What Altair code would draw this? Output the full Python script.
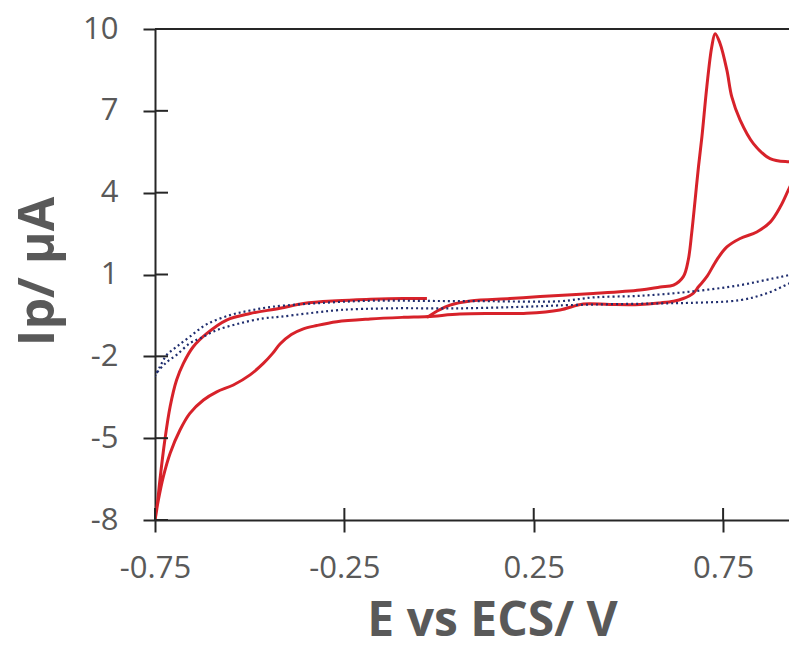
import altair as alt
import pandas as pd

# Axis ticks / domains
x_ticks = [-0.75, -0.25, 0.25, 0.75]
y_ticks = [-8, -5, -2, 1, 4, 7, 10]
x_domain = [-0.75, 0.924]
y_domain = [-8, 10]

# Red CV (sample): forward scan -> reverse scan -> return scan
red_E = [
    -0.032, -0.005, 0.029, 0.082, 0.187, 0.267, 0.407, 0.531, 0.584, 0.619,
    0.645, 0.658, 0.667, 0.676, 0.685, 0.694, 0.707, 0.720, 0.729, 0.742,
    0.760, 0.773, 0.795, 0.830, 0.874, 0.924, 0.950,
    0.950, 0.924, 0.901, 0.875, 0.839, 0.795, 0.760, 0.733, 0.707, 0.685,
    0.671, 0.645, 0.619, 0.584, 0.531, 0.450, 0.381, 0.319, 0.231, 0.150,
    0.055, -0.030, -0.094, -0.182, -0.270, -0.323, -0.360, -0.390, -0.420,
    -0.440, -0.464, -0.499, -0.543, -0.587, -0.622, -0.658, -0.684, -0.710,
    -0.728, -0.741, -0.750,
    -0.7455, -0.737, -0.724, -0.710, -0.693, -0.675, -0.649, -0.613, -0.561,
    -0.499, -0.420, -0.358, -0.270, -0.182, -0.094, -0.032,
]
red_I = [
    -0.58, -0.34, -0.12, 0.03, 0.12, 0.19, 0.30, 0.43, 0.54, 0.61,
    0.92, 1.53, 2.51, 3.72, 4.95, 6.04, 7.88, 9.34, 9.83, 9.47,
    8.49, 7.51, 6.66, 5.80, 5.25, 5.13, 5.12,
    4.90, 4.15, 3.48, 2.93, 2.56, 2.32, 2.01, 1.53, 0.92, 0.55,
    0.31, 0.12, 0.02, -0.04, -0.10, -0.10, -0.08, -0.30, -0.42, -0.43,
    -0.45, -0.54, -0.57, -0.63, -0.73, -0.87, -1.00, -1.20, -1.55,
    -1.90, -2.26, -2.68, -3.05, -3.30, -3.60, -4.09, -4.70, -5.55,
    -6.41, -7.26, -8.00,
    -7.63, -6.53, -5.07, -3.84, -2.87, -2.26, -1.65, -1.16, -0.67,
    -0.43, -0.24, -0.06, 0.04, 0.09, 0.12, 0.12,
]

# Blue dotted CV (blank)
blue_E = [
    0.950, 0.924, 0.865, 0.795, 0.663, 0.584, 0.346, 0.231, 0.055, -0.129,
    -0.261, -0.349, -0.420, -0.464, -0.526, -0.587, -0.631, -0.658, -0.693,
    -0.719, -0.746, -0.750,
    -0.737, -0.719, -0.693, -0.658, -0.613, -0.552, -0.499, -0.438, -0.306,
    -0.174, -0.024, 0.135, 0.319, 0.407, 0.531, 0.663, 0.795, 0.883, 0.924,
    0.950,
]
blue_I = [
    0.85, 0.67, 0.31, 0.06, -0.04, -0.06, -0.12, -0.18, -0.24, -0.24,
    -0.30, -0.43, -0.55, -0.61, -0.79, -1.04, -1.34, -1.52, -1.95,
    -2.21, -2.62, -2.72,
    -2.38, -1.95, -1.65, -1.28, -0.82, -0.49, -0.32, -0.18, -0.04,
    0.04, 0.03, 0.02, 0.02, 0.16, 0.22, 0.37, 0.61, 0.86, 0.98,
    1.10,
]

W, H = 634, 491
AXIS_C = "#262626"
TEXT_C = "#595959"

red = pd.DataFrame({"E": red_E, "I": red_I, "k": list(range(len(red_E)))})
blue = pd.DataFrame({"E": blue_E, "I": blue_I, "k": list(range(len(blue_E)))})

xs = alt.Scale(domain=x_domain, nice=False, zero=False)
ys = alt.Scale(domain=y_domain, nice=False, zero=False)

x_axis = alt.Axis(
    values=x_ticks, labelExpr="'' + datum.value", title="E vs ECS/ V",
    grid=False, domainColor=AXIS_C, domainWidth=2, tickColor=AXIS_C,
    tickWidth=2, tickSize=12, labelFont="Open Sans", labelFontSize=31,
    labelColor=TEXT_C, labelPadding=21, labelFlush=False, labelOverlap=False,
    titleFont="Open Sans", titleFontSize=48, titleFontWeight="bold",
    titleColor=TEXT_C, titleX=337, titleY=115, titleBaseline="alphabetic",
    titleAlign="center",
)
y_axis = alt.Axis(
    values=y_ticks, labelExpr="'' + datum.value", title="Ip/ µA",
    grid=False, domainColor=AXIS_C, domainWidth=2, tickColor=AXIS_C,
    tickWidth=2, tickSize=12, labelFont="Open Sans", labelFontSize=31,
    labelColor=TEXT_C, labelPadding=25, labelFlush=False, labelOverlap=False,
    titleFont="Open Sans", titleFontSize=50, titleFontWeight="bold",
    titleColor=TEXT_C, titleAngle=270, titleX=-102, titleY=242,
    titleBaseline="alphabetic", titleAlign="center",
)

red_line = alt.Chart(red).mark_line(
    color="#d7222a", strokeWidth=3, clip=True, interpolate="catmull-rom"
).encode(
    x=alt.X("E:Q", scale=xs, axis=x_axis),
    y=alt.Y("I:Q", scale=ys, axis=y_axis),
    order=alt.Order("k:Q"),
)

blue_line = alt.Chart(blue).mark_line(
    color="#1f2d6e", strokeWidth=2.2, strokeDash=[2, 3], clip=True,
    interpolate="catmull-rom"
).encode(
    x=alt.X("E:Q", scale=xs),
    y=alt.Y("I:Q", scale=ys),
    order=alt.Order("k:Q"),
)

top_rule = alt.Chart(pd.DataFrame({"v": [y_domain[1]]})).mark_rule(
    color=AXIS_C, strokeWidth=2
).encode(y=alt.Y("v:Q", scale=ys))

x_in = alt.Chart(pd.DataFrame({"v": x_ticks})).mark_rule(
    color=AXIS_C, strokeWidth=2
).encode(x=alt.X("v:Q", scale=xs), y=alt.value(H - 12), y2=alt.value(H))

y_in = alt.Chart(pd.DataFrame({"v": y_ticks})).mark_rule(
    color=AXIS_C, strokeWidth=2
).encode(y=alt.Y("v:Q", scale=ys), x=alt.value(0), x2=alt.value(13))

chart = alt.layer(red_line, blue_line, top_rule, x_in, y_in).properties(
    width=W, height=H,
    autosize=alt.AutoSizeParams(type="none"),
    padding={"left": 155, "top": 29, "right": 0, "bottom": 132},
    background="white",
).configure_view(strokeWidth=0)

chart.save("out.html", embed_options={"renderer": "svg", "actions": False})
